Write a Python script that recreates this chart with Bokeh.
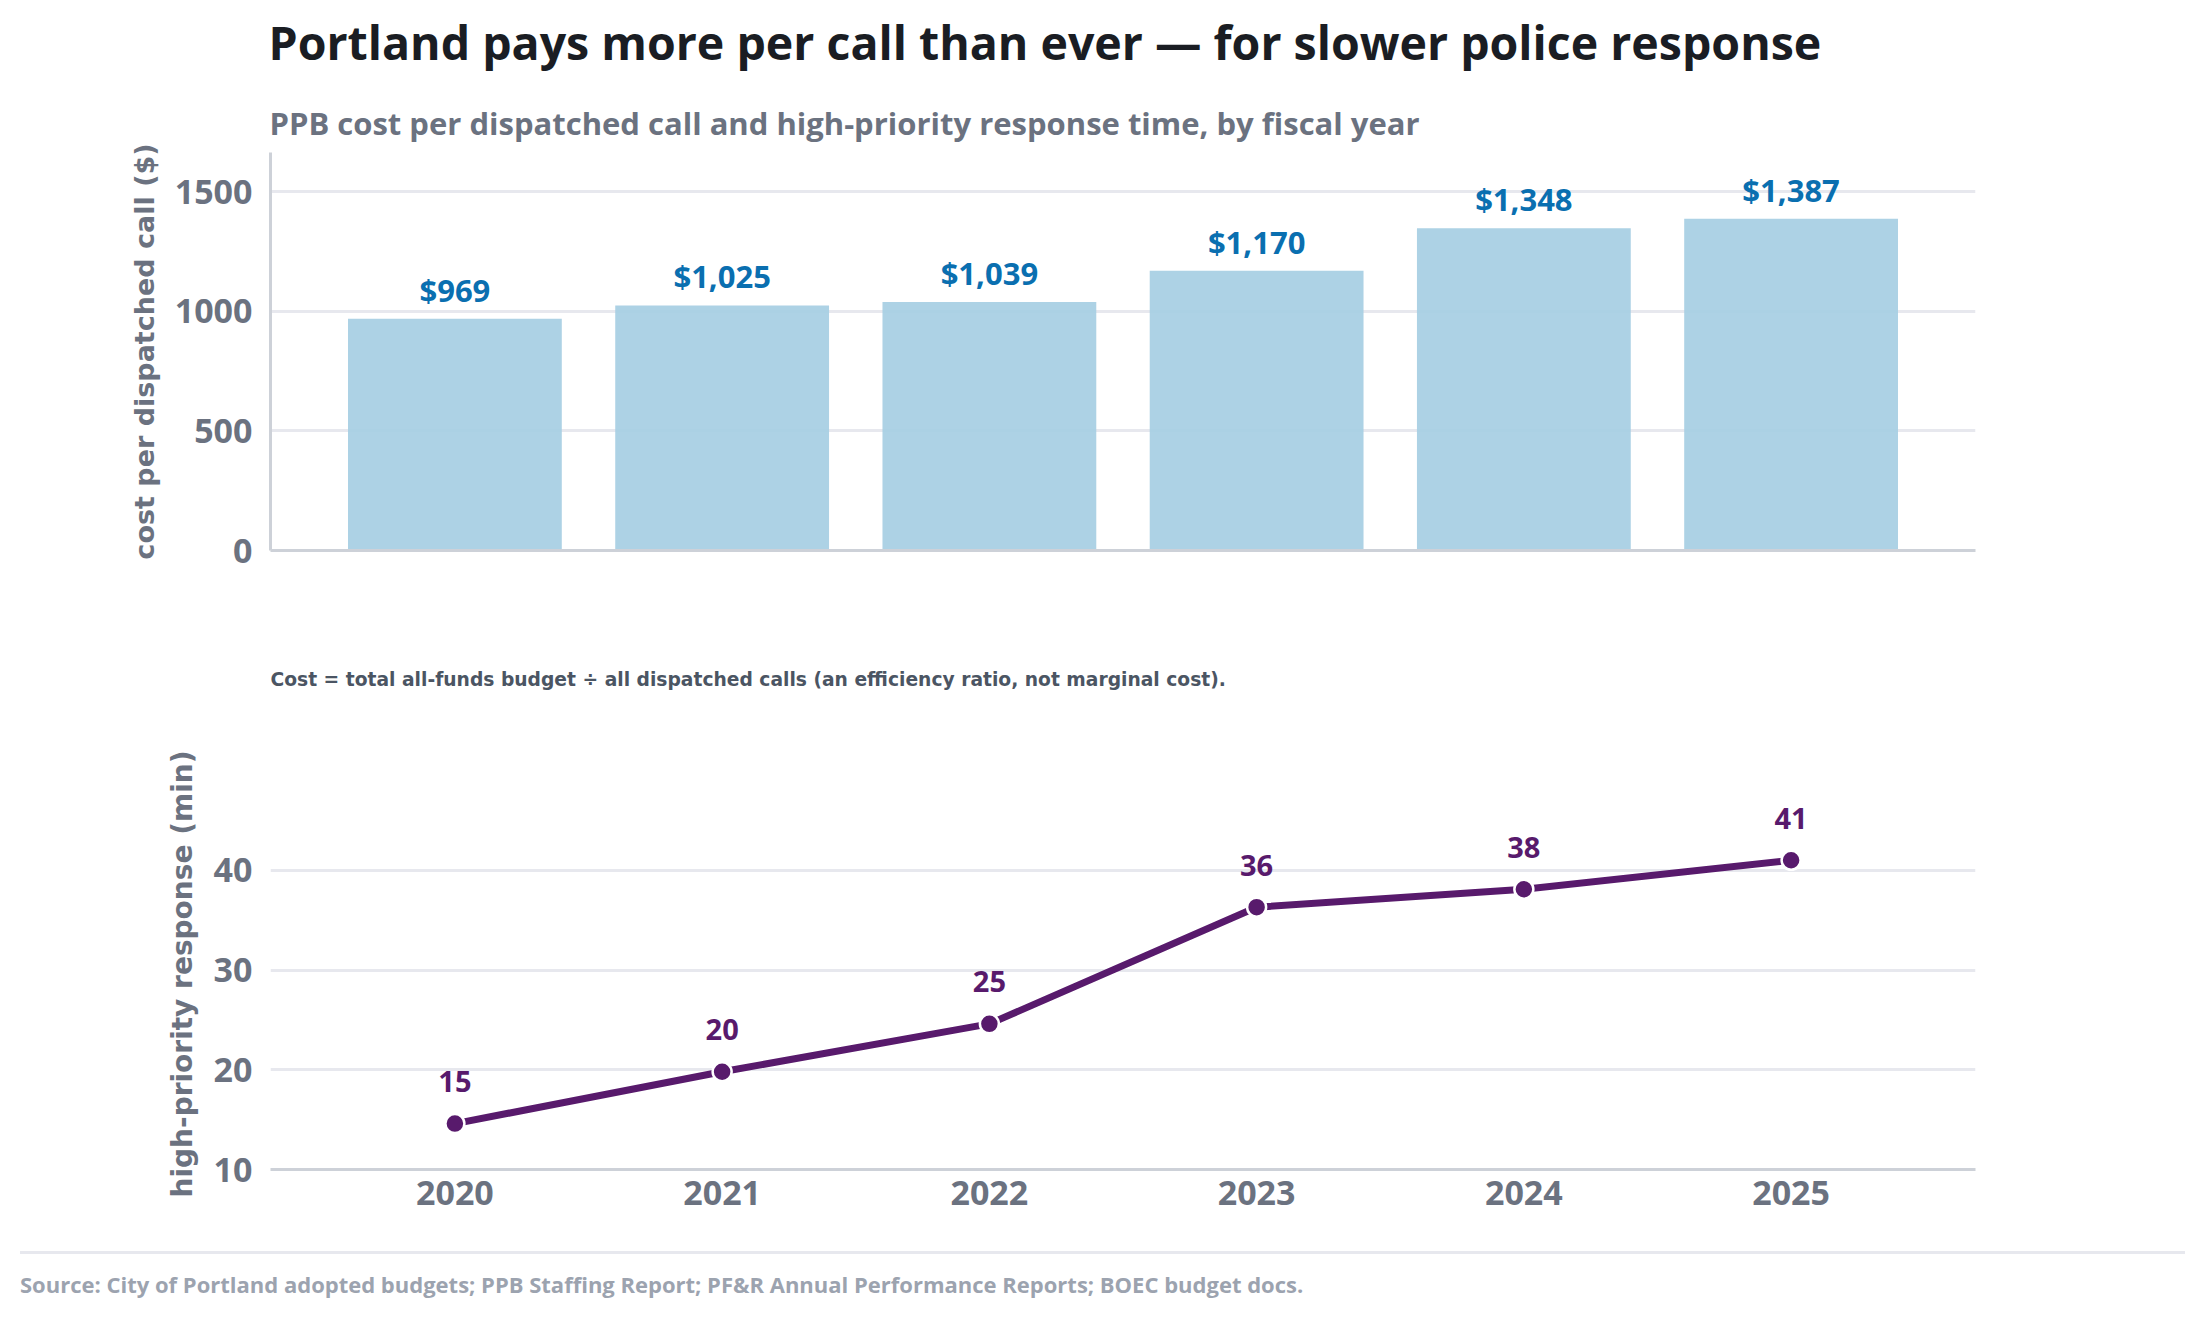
from bokeh.plotting import figure
from bokeh.layouts import column
from bokeh.models import Range1d, FixedTicker, ColumnDataSource, Label, Div
from bokeh.core.properties import value
from bokeh.embed import file_html
from bokeh.resources import INLINE

years = [2020, 2021, 2022, 2023, 2024, 2025]
cost_per_call = [969, 1025, 1039, 1170, 1348, 1387]
cost_labels = ["$969", "$1,025", "$1,039", "$1,170", "$1,348", "$1,387"]
response_min = [14.6, 19.8, 24.6, 36.3, 38.1, 41.0]
response_labels = ["15", "20", "25", "36", "38", "41"]
cost_ticks = [0, 500, 1000, 1500]
resp_ticks = [10, 20, 30, 40]

TITLE = "Portland pays more per call than ever \u2014 for slower police response"
SUBTITLE = "PPB cost per dispatched call and high-priority response time, by fiscal year"
NOTE = "Cost = total all-funds budget \u00f7 all dispatched calls (an efficiency ratio, not marginal cost)."
SOURCE = "Source: City of Portland adopted budgets; PPB Staffing Report; PF&amp;R Annual Performance Reports; BOEC budget docs."

F_HEAD = "Open Sans"
F_AX = "DejaVu Sans"
GRAY = "#6b7280"
GRID = "#e7e8ee"
AXIS = "#cdd1d8"
BLUE_BAR = "#a6cee3"
BLUE_TXT = "#0a6fb0"
PURPLE = "#581a6c"
W = 2180
LEFT = 270
RIGHT = W - 1975


def blank(height):
    # text-only strip; its y range runs in pixels from the top
    f = figure(width=W, height=height, x_range=Range1d(0, 1), y_range=Range1d(height, 0),
               output_backend="svg", toolbar_location=None,
               min_border_left=LEFT, min_border_right=RIGHT, min_border_top=0, min_border_bottom=0)
    f.axis.visible = False
    f.grid.visible = False
    f.outline_line_color = None
    return f


# ---------- header ----------
hdr = blank(143)
hdr.add_layout(Label(x=0, y=41, x_offset=-2, text=TITLE, text_font=F_HEAD, text_font_style="bold",
                     text_font_size="46.5px", text_color="#1a1d23", text_baseline="alphabetic"))
hdr.add_layout(Label(x=0, y=122.5, x_offset=-1, text=SUBTITLE, text_font=F_HEAD, text_font_style="bold",
                     text_font_size="31px", text_color=GRAY, text_baseline="alphabetic"))

# ---------- top: bars ----------
x_range = Range1d(2019.31, 2025.69)
p1 = figure(width=W, height=497, x_range=x_range, y_range=Range1d(0, max(cost_per_call) * 1.2),
            output_backend="svg", toolbar_location=None,
            min_border_left=LEFT, min_border_right=RIGHT, min_border_top=9, min_border_bottom=90)
p1.outline_line_color = None
src1 = ColumnDataSource(dict(x=years, y=cost_per_call, lab=cost_labels))
p1.vbar(x="x", top="y", width=0.8, source=src1, fill_color=BLUE_BAR, fill_alpha=0.92, line_color=None)
p1.text(x="x", y="y", text="lab", source=src1, text_font=value(F_HEAD), text_font_style="bold",
        text_font_size="31px", text_color=BLUE_TXT, text_align="center", text_baseline="alphabetic",
        y_offset=-29)
p1.yaxis.ticker = FixedTicker(ticks=cost_ticks)
p1.yaxis.axis_label = "cost per dispatched call ($)"
p1.xaxis.ticker = FixedTicker(ticks=[])
p1.xgrid.grid_line_color = None
p1.ygrid.grid_line_color = GRID
p1.ygrid.grid_line_width = 3
for ax in [p1.xaxis[0], p1.yaxis[0]]:
    ax.axis_line_color = AXIS
    ax.axis_line_width = 3
    ax.major_tick_line_color = None
    ax.minor_tick_line_color = None

# ---------- note ----------
note = blank(100)
note.add_layout(Label(x=0, y=39, text=NOTE, text_font=F_AX, text_font_style="bold",
                      text_font_size="18.7px", text_color="#4b5563", text_baseline="alphabetic"))

# ---------- bottom: line ----------
p2 = figure(width=W, height=485, x_range=x_range, y_range=Range1d(10, max(response_min) * 1.2),
            output_backend="svg", toolbar_location=None,
            min_border_left=LEFT, min_border_right=RIGHT, min_border_top=38, min_border_bottom=56)
p2.outline_line_color = None
src2 = ColumnDataSource(dict(x=years, y=response_min, lab=response_labels))
p2.line(x="x", y="y", source=src2, line_color=PURPLE, line_width=7)
p2.scatter(x="x", y="y", source=src2, size=19, fill_color=PURPLE, line_color="white", line_width=2.5)
p2.text(x="x", y="y", text="lab", source=src2, text_font=value(F_HEAD), text_font_style="bold",
        text_font_size="29px", text_color=PURPLE, text_align="center", text_baseline="alphabetic",
        y_offset=-42)
p2.yaxis.ticker = FixedTicker(ticks=resp_ticks)
p2.xaxis.ticker = FixedTicker(ticks=years)
p2.yaxis.axis_label = "high-priority response (min)"
p2.xgrid.grid_line_color = None
p2.ygrid.grid_line_color = GRID
p2.ygrid.grid_line_width = 3
p2.yaxis.axis_line_color = None
p2.xaxis.axis_line_color = AXIS
p2.xaxis.axis_line_width = 3
p2.xaxis.major_label_standoff = 5
for ax in [p2.xaxis[0], p2.yaxis[0]]:
    ax.major_tick_line_color = None
    ax.minor_tick_line_color = None

for ax in [p1.yaxis[0], p2.yaxis[0], p2.xaxis[0]]:
    ax.major_label_text_font = F_HEAD
    ax.major_label_text_font_style = "bold"
    ax.major_label_text_font_size = "34px"
    ax.major_label_text_color = GRAY
for ax, fs in [(p1.yaxis[0], "27px"), (p2.yaxis[0], "28px")]:
    ax.major_label_standoff = 12
    ax.axis_label_text_font = F_AX
    ax.axis_label_text_font_style = "bold"
    ax.axis_label_text_font_size = fs
    ax.axis_label_text_color = GRAY
    ax.axis_label_standoff = 12

# ---------- footer ----------
footer = Div(width=W, height=80, text=(
    '<div style="position:relative;width:%dpx;height:80px;">'
    '<div style="position:absolute;left:15px;right:0px;top:21px;height:3px;background:%s;"></div>'
    '<div style="position:absolute;left:15px;top:43px;white-space:nowrap;line-height:1;'
    'font-family:\'Open Sans\';font-weight:bold;font-size:22px;color:#9ca3af;">%s</div>'
    '</div>') % (W, GRID, SOURCE))

layout = column(hdr, p1, note, p2, footer, spacing=0)
open("out.html", "w").write(file_html(layout, INLINE))
